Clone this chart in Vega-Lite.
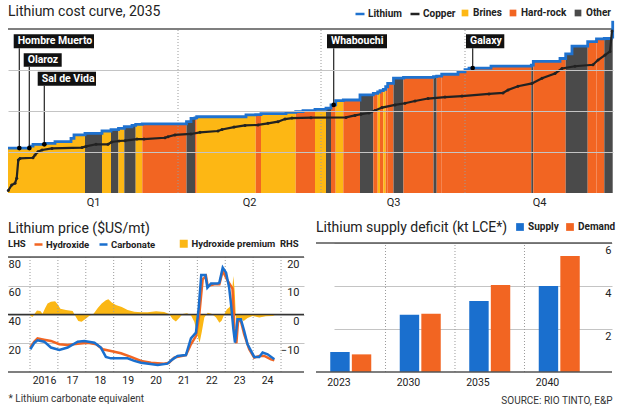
{
  "$schema": "https://vega.github.io/schema/vega-lite/v6.json",
  "background": "white",
  "padding": {"left": 2, "top": 5, "right": 0, "bottom": 0},
  "config": {
    "view": {"stroke": null},
    "font": "Roboto",
    "title": {"font": "Roboto", "fontSize": 14, "fontWeight": "normal", "color": "#222222", "anchor": "start", "frame": "group"},
    "axis": {"labelFont": "Roboto", "labelFontSize": 11, "labelColor": "#222222", "titleFont": "Roboto", "ticks": false, "domain": false, "gridColor": "#c4c4c4", "gridWidth": 1, "labelOverlap": false, "labelSeparation": 0},
    "legend": {"labelFont": "Roboto", "labelFontSize": 10, "labelFontWeight": "bold", "labelColor": "#222222", "titleFont": "Roboto", "titleFontSize": 10, "titleFontWeight": "bold", "titleColor": "#222222", "padding": 0, "direction": "horizontal", "gridAlign": "none"}
  },
  "datasets": {
    "bars": [
      {"id":1,"x0":0,"x1":22,"v":27.4,"type":"Brines"},
      {"id":2,"x0":22,"x1":25,"v":28.6,"type":"Brines"},
      {"id":3,"x0":25,"x1":37,"v":29.7,"type":"Brines"},
      {"id":4,"x0":37,"x1":47,"v":30.3,"type":"Brines"},
      {"id":5,"x0":47,"x1":63,"v":31.3,"type":"Brines"},
      {"id":6,"x0":63,"x1":66,"v":33.3,"type":"Brines"},
      {"id":7,"x0":66,"x1":77,"v":35.4,"type":"Brines"},
      {"id":8,"x0":77,"x1":94,"v":36.4,"type":"Other"},
      {"id":9,"x0":94,"x1":103,"v":37.8,"type":"Brines"},
      {"id":10,"x0":103,"x1":110.5,"v":38.6,"type":"Other"},
      {"id":11,"x0":110.5,"x1":116.3,"v":39.4,"type":"Brines"},
      {"id":12,"x0":116.3,"x1":124,"v":40.4,"type":"Other"},
      {"id":13,"x0":124,"x1":127.7,"v":41.2,"type":"Other"},
      {"id":14,"x0":127.7,"x1":134.3,"v":41.8,"type":"Brines"},
      {"id":15,"x0":134.3,"x1":178.5,"v":42.1,"type":"Hard-rock"},
      {"id":16,"x0":178.5,"x1":183,"v":43.5,"type":"Other"},
      {"id":17,"x0":183,"x1":187,"v":45.5,"type":"Other"},
      {"id":18,"x0":187,"x1":188.7,"v":45.8,"type":"Hard-rock"},
      {"id":19,"x0":188.7,"x1":238,"v":46.5,"type":"Brines"},
      {"id":20,"x0":238,"x1":247.7,"v":47.6,"type":"Brines"},
      {"id":21,"x0":247.7,"x1":253,"v":47.8,"type":"Hard-rock"},
      {"id":22,"x0":253,"x1":278,"v":48.4,"type":"Brines"},
      {"id":23,"x0":278,"x1":287.7,"v":49.2,"type":"Brines"},
      {"id":24,"x0":287.7,"x1":295,"v":49.6,"type":"Hard-rock"},
      {"id":25,"x0":295,"x1":307,"v":50.2,"type":"Hard-rock"},
      {"id":26,"x0":307,"x1":318,"v":51.0,"type":"Brines"},
      {"id":27,"x0":318,"x1":323,"v":51.8,"type":"Other"},
      {"id":28,"x0":323,"x1":327.7,"v":53.7,"type":"Hard-rock"},
      {"id":29,"x0":327.7,"x1":335.3,"v":56.3,"type":"Brines"},
      {"id":30,"x0":335.3,"x1":352,"v":56.7,"type":"Hard-rock"},
      {"id":31,"x0":352,"x1":365.3,"v":59.8,"type":"Other"},
      {"id":32,"x0":365.3,"x1":369.7,"v":60.8,"type":"Hard-rock"},
      {"id":33,"x0":369.7,"x1":372,"v":61.6,"type":"Brines"},
      {"id":34,"x0":372,"x1":375.3,"v":62.4,"type":"Hard-rock"},
      {"id":35,"x0":375.3,"x1":377.7,"v":63.2,"type":"Brines"},
      {"id":36,"x0":377.7,"x1":379.7,"v":64.8,"type":"Hard-rock"},
      {"id":37,"x0":379.7,"x1":385.5,"v":66.9,"type":"Hard-rock"},
      {"id":38,"x0":385.5,"x1":395.5,"v":70.0,"type":"Other"},
      {"id":39,"x0":395.5,"x1":425.5,"v":70.5,"type":"Hard-rock"},
      {"id":40,"x0":425.5,"x1":428.7,"v":71.0,"type":"Other"},
      {"id":41,"x0":428.7,"x1":433.7,"v":71.3,"type":"Hard-rock"},
      {"id":42,"x0":433.7,"x1":450,"v":72.4,"type":"Hard-rock"},
      {"id":43,"x0":450,"x1":457,"v":73.8,"type":"Hard-rock"},
      {"id":44,"x0":457,"x1":461,"v":75.2,"type":"Hard-rock"},
      {"id":45,"x0":461,"x1":483,"v":76.2,"type":"Hard-rock"},
      {"id":46,"x0":483,"x1":523.3,"v":77.4,"type":"Hard-rock"},
      {"id":47,"x0":523.3,"x1":525.3,"v":78.0,"type":"Other"},
      {"id":48,"x0":525.3,"x1":552,"v":80.3,"type":"Hard-rock"},
      {"id":49,"x0":552,"x1":557.7,"v":82.0,"type":"Hard-rock"},
      {"id":50,"x0":557.7,"x1":564,"v":84.8,"type":"Other"},
      {"id":51,"x0":564,"x1":579.7,"v":89.6,"type":"Other"},
      {"id":52,"x0":579.7,"x1":588.5,"v":92.3,"type":"Hard-rock"},
      {"id":53,"x0":588.5,"x1":596.3,"v":94.0,"type":"Hard-rock"},
      {"id":54,"x0":596.3,"x1":604.7,"v":94.2,"type":"Other"}
    ],
    "copper": [
      {"x":0.3,"v":1.5},{"x":3.7,"v":4.9},{"x":7,"v":6.0},{"x":8.7,"v":9.0},{"x":10.3,"v":20.1},{"x":12,"v":21.1},
      {"x":25,"v":21.5},{"x":27,"v":23.2},{"x":30,"v":25.2},{"x":34,"v":26.2},{"x":44,"v":27.2},{"x":74,"v":27.7},
      {"x":78,"v":28.4},{"x":88,"v":29.7},{"x":100,"v":29.7},{"x":103.7,"v":31.1},{"x":111,"v":31.7},{"x":117,"v":31.9},
      {"x":129,"v":32.9},{"x":136,"v":32.9},{"x":157,"v":33.7},{"x":160,"v":34.3},{"x":167,"v":35.4},{"x":183,"v":36.0},
      {"x":192,"v":37.0},{"x":210,"v":37.8},{"x":214,"v":38.7},{"x":226,"v":40.2},{"x":237,"v":41.2},{"x":250,"v":41.5},
      {"x":260,"v":42.5},{"x":270,"v":43.5},{"x":277,"v":45.1},{"x":284,"v":45.7},{"x":303,"v":45.9},{"x":338,"v":46.1},
      {"x":347,"v":47.3},{"x":353,"v":48.0},{"x":361,"v":48.8},{"x":367,"v":50.3},{"x":374,"v":52.1},{"x":387,"v":53.7},
      {"x":397,"v":54.7},{"x":407,"v":56.1},{"x":420,"v":57.6},{"x":437,"v":58.5},{"x":454,"v":59.1},{"x":481,"v":60.4},
      {"x":495,"v":61.0},{"x":500,"v":62.8},{"x":510,"v":65.1},{"x":524,"v":66.8},{"x":534,"v":70.0},{"x":547,"v":72.9},
      {"x":554,"v":75.9},{"x":567,"v":77.3},{"x":585,"v":78.2},{"x":590,"v":81.1},{"x":597,"v":84.1},{"x":602,"v":86.3},
      {"x":604,"v":98.8}
    ],
    "ann": [
      {"label":"Hombre Muerto","bx0":5.7,"bx1":86,"by0":88.2,"by1":96.8,"lx":11.3,"dy":27.4},
      {"label":"Olaroz","bx0":15.7,"bx1":53.7,"by0":77.0,"by1":85.2,"lx":21.3,"dy":27.4},
      {"label":"Sal de Vida","bx0":29.7,"bx1":88,"by0":65.4,"by1":74.0,"lx":36.3,"dy":29.7},
      {"label":"Whabouchi","bx0":319,"bx1":379,"by0":88.2,"by1":96.8,"lx":325.7,"dy":53.7},
      {"label":"Galaxy","bx0":458,"bx1":496.3,"by0":88.2,"by1":96.8,"lx":464.7,"dy":76.2}
    ],
    "price": [
      {"t":2016.01,"s":"Hydroxide","v":17.0},{"t":2016.15,"s":"Hydroxide","v":21.0},{"t":2016.27,"s":"Hydroxide","v":23.4},{"t":2016.5,"s":"Hydroxide","v":22.5},
      {"t":2016.75,"s":"Hydroxide","v":21.6},{"t":2017.05,"s":"Hydroxide","v":19.3},{"t":2017.35,"s":"Hydroxide","v":18.8},{"t":2017.71,"s":"Hydroxide","v":19.7},
      {"t":2018.08,"s":"Hydroxide","v":20.4},{"t":2018.37,"s":"Hydroxide","v":19.3},{"t":2018.61,"s":"Hydroxide","v":15.8},{"t":2018.90,"s":"Hydroxide","v":14.6},
      {"t":2019.26,"s":"Hydroxide","v":13.0},{"t":2019.62,"s":"Hydroxide","v":10.5},{"t":2019.98,"s":"Hydroxide","v":7.7},{"t":2020.34,"s":"Hydroxide","v":6.5},
      {"t":2020.81,"s":"Hydroxide","v":5.8},{"t":2020.99,"s":"Hydroxide","v":6.5},{"t":2021.17,"s":"Hydroxide","v":10.0},{"t":2021.59,"s":"Hydroxide","v":11.8},
      {"t":2021.77,"s":"Hydroxide","v":19.3},{"t":2021.95,"s":"Hydroxide","v":25.0},{"t":2022.07,"s":"Hydroxide","v":40.0},{"t":2022.19,"s":"Hydroxide","v":64.5},
      {"t":2022.31,"s":"Hydroxide","v":66.8},{"t":2022.37,"s":"Hydroxide","v":59.9},{"t":2022.61,"s":"Hydroxide","v":61.0},{"t":2022.79,"s":"Hydroxide","v":61.0},
      {"t":2022.91,"s":"Hydroxide","v":70.3},{"t":2023.09,"s":"Hydroxide","v":63.3},{"t":2023.26,"s":"Hydroxide","v":58.0},{"t":2023.33,"s":"Hydroxide","v":30.0},
      {"t":2023.40,"s":"Hydroxide","v":20.0},{"t":2023.46,"s":"Hydroxide","v":35.5},{"t":2023.56,"s":"Hydroxide","v":35.5},{"t":2023.68,"s":"Hydroxide","v":26.2},
      {"t":2023.86,"s":"Hydroxide","v":15.8},{"t":2024.04,"s":"Hydroxide","v":10.0},{"t":2024.22,"s":"Hydroxide","v":11.2},{"t":2024.40,"s":"Hydroxide","v":11.2},
      {"t":2024.64,"s":"Hydroxide","v":8.8},{"t":2024.76,"s":"Hydroxide","v":8.1},
      {"t":2016.01,"s":"Carbonate","v":15.8},{"t":2016.16,"s":"Carbonate","v":20.4},{"t":2016.27,"s":"Carbonate","v":22.1},{"t":2016.51,"s":"Carbonate","v":21.1},
      {"t":2016.75,"s":"Carbonate","v":17.0},{"t":2017.05,"s":"Carbonate","v":15.3},{"t":2017.35,"s":"Carbonate","v":17.0},{"t":2017.71,"s":"Carbonate","v":21.1},
      {"t":2017.95,"s":"Carbonate","v":21.6},{"t":2018.31,"s":"Carbonate","v":20.4},{"t":2018.54,"s":"Carbonate","v":17.0},{"t":2018.72,"s":"Carbonate","v":10.5},
      {"t":2018.90,"s":"Carbonate","v":9.5},{"t":2019.50,"s":"Carbonate","v":9.5},{"t":2019.74,"s":"Carbonate","v":7.7},{"t":2019.98,"s":"Carbonate","v":6.5},
      {"t":2020.58,"s":"Carbonate","v":4.9},{"t":2020.93,"s":"Carbonate","v":5.8},{"t":2021.11,"s":"Carbonate","v":8.8},{"t":2021.29,"s":"Carbonate","v":11.2},
      {"t":2021.59,"s":"Carbonate","v":11.8},{"t":2021.77,"s":"Carbonate","v":23.4},{"t":2021.95,"s":"Carbonate","v":27.4},{"t":2022.05,"s":"Carbonate","v":45.0},
      {"t":2022.14,"s":"Carbonate","v":67.5},{"t":2022.29,"s":"Carbonate","v":67.5},{"t":2022.36,"s":"Carbonate","v":58.7},{"t":2022.49,"s":"Carbonate","v":61.5},
      {"t":2022.73,"s":"Carbonate","v":61.5},{"t":2022.79,"s":"Carbonate","v":62.2},{"t":2022.91,"s":"Carbonate","v":72.6},{"t":2023.03,"s":"Carbonate","v":69.1},
      {"t":2023.14,"s":"Carbonate","v":58.7},{"t":2023.22,"s":"Carbonate","v":45.0},{"t":2023.29,"s":"Carbonate","v":30.0},{"t":2023.35,"s":"Carbonate","v":20.4},
      {"t":2023.44,"s":"Carbonate","v":36.7},{"t":2023.56,"s":"Carbonate","v":36.7},{"t":2023.68,"s":"Carbonate","v":28.5},{"t":2023.80,"s":"Carbonate","v":19.3},
      {"t":2024.04,"s":"Carbonate","v":10.5},{"t":2024.22,"s":"Carbonate","v":10.5},{"t":2024.34,"s":"Carbonate","v":13.5},{"t":2024.52,"s":"Carbonate","v":12.3},
      {"t":2024.76,"s":"Carbonate","v":8.8}
    ],
    "premium": [
      {"t":2016.01,"p":-0.5},{"t":2016.10,"p":-0.8},{"t":2016.16,"p":0.2},{"t":2016.25,"p":1.4},{"t":2016.37,"p":1.2},{"t":2016.45,"p":0.3},
      {"t":2016.54,"p":2.2},{"t":2016.63,"p":3.8},{"t":2016.75,"p":4.4},{"t":2016.90,"p":4.6},{"t":2016.99,"p":3.6},{"t":2017.09,"p":2.0},
      {"t":2017.29,"p":1.6},{"t":2017.53,"p":1.2},{"t":2017.61,"p":-0.3},{"t":2017.73,"p":-2.3},{"t":2017.85,"p":-2.5},{"t":2018.01,"p":-1.4},
      {"t":2018.13,"p":-0.4},{"t":2018.28,"p":0.3},{"t":2018.43,"p":2.3},{"t":2018.57,"p":3.8},{"t":2018.72,"p":5.0},{"t":2018.81,"p":5.3},
      {"t":2018.93,"p":4.2},{"t":2019.08,"p":3.3},{"t":2019.29,"p":2.6},{"t":2019.50,"p":1.6},{"t":2019.74,"p":1.0},{"t":2019.98,"p":0.8},
      {"t":2020.22,"p":0.8},{"t":2020.52,"p":1.1},{"t":2020.81,"p":0.9},{"t":2020.99,"p":0.2},{"t":2021.11,"p":-1.6},{"t":2021.23,"p":-2.4},
      {"t":2021.35,"p":-1.2},{"t":2021.47,"p":0.2},{"t":2021.63,"p":0.4},{"t":2021.77,"p":-0.3},{"t":2021.89,"p":-2.5},{"t":2022.01,"p":-7.5},
      {"t":2022.08,"p":-9.8},{"t":2022.16,"p":-6.0},{"t":2022.25,"p":-1.0},{"t":2022.37,"p":0.6},{"t":2022.51,"p":0.3},{"t":2022.67,"p":-1.0},
      {"t":2022.79,"p":-2.9},{"t":2022.87,"p":-2.2},{"t":2022.97,"p":0.2},{"t":2023.06,"p":1.8},{"t":2023.16,"p":2.6},{"t":2023.23,"p":6.0},
      {"t":2023.29,"p":13.4},{"t":2023.34,"p":8.0},{"t":2023.40,"p":-5.7},{"t":2023.44,"p":-2.0},{"t":2023.54,"p":-1.1},{"t":2023.66,"p":-2.3},
      {"t":2023.80,"p":-1.2},{"t":2023.98,"p":-0.5},{"t":2024.22,"p":-1.0},{"t":2024.46,"p":-0.6},{"t":2024.70,"p":-0.5},{"t":2024.76,"p":-0.3}
    ],
    "deficit": [
      {"year":"2023","s":"Supply","v":0.93},{"year":"2023","s":"Demand","v":0.82},
      {"year":"2030","s":"Supply","v":2.66},{"year":"2030","s":"Demand","v":2.71},
      {"year":"2035","s":"Supply","v":3.30},{"year":"2035","s":"Demand","v":4.05},
      {"year":"2040","s":"Supply","v":4.00},{"year":"2040","s":"Demand","v":5.40}
    ]
  },
  "resolve": {"scale": {"fill": "independent", "color": "independent", "stroke": "independent"}},
  "spacing": 14,
  "vconcat": [
    {
      "width": 605,
      "height": 164,
      "title": {"text": "Lithium cost curve, 2035", "offset": -11},
      "layer": [
        {
          "data": {"name": "bars"},
          "mark": {"type": "rect"},
          "encoding": {
            "x": {"field": "x0", "type": "quantitative", "scale": {"domain": [0, 605], "nice": false, "zero": false},
                  "axis": {"values": [85, 241, 385, 531], "tickCount": 20, "labelExpr": "datum.value < 100 ? 'Q1' : datum.value < 300 ? 'Q2' : datum.value < 450 ? 'Q3' : 'Q4'", "grid": false, "title": null, "labelPadding": 3}},
            "x2": {"field": "x1"},
            "y": {"field": "v", "type": "quantitative", "scale": {"domain": [0, 100], "nice": false, "zero": false},
                  "axis": {"values": [25, 50, 75], "tickCount": 20, "labels": false, "title": null, "grid": true, "zindex": 1}},
            "y2": {"datum": 0},
            "fill": {"field": "type", "type": "nominal",
                     "scale": {"domain": ["Brines", "Hard-rock", "Other"], "range": ["#fdb714", "#f26522", "#4a4a4a"]},
                     "legend": {"orient": "none", "title": null, "legendX": 452, "legendY": -21, "symbolType": "square", "symbolSize": 45, "symbolStrokeWidth": 0, "labelOffset": 3, "columnPadding": 6}}
          }
        },
        {
          "data": {"values": [{"q": 170}, {"q": 313}, {"q": 457}]},
          "mark": {"type": "rule", "color": "#9a9a9a", "strokeDash": [1, 2], "strokeWidth": 1},
          "encoding": {
            "x": {"field": "q", "type": "quantitative"},
            "y": {"datum": 0},
            "y2": {"datum": 100}
          }
        },
        {
          "data": {"values": [{}]},
          "mark": {"type": "rule", "color": "#555555", "strokeWidth": 1.3},
          "encoding": {"y": {"datum": 100}}
        },
        {
          "data": {"name": "bars"},
          "transform": [{"fold": ["x0", "x1"], "as": ["edge", "xv"]}],
          "mark": {"type": "line", "strokeWidth": 2.8},
          "encoding": {
            "x": {"field": "xv", "type": "quantitative"},
            "y": {"field": "v", "type": "quantitative"},
            "order": [{"field": "id", "type": "quantitative"}, {"field": "edge", "type": "nominal"}],
            "stroke": {"datum": "Lithium", "type": "nominal",
                       "scale": {"domain": ["Lithium", "Copper"], "range": ["#1f72cf", "#222222"]},
                       "legend": {"orient": "none", "title": null, "legendX": 346, "legendY": -21, "symbolType": "stroke", "symbolSize": 81, "symbolStrokeWidth": 2.5, "labelOffset": 2, "columnPadding": 3}}
          }
        },
        {
          "data": {"values": [{}]},
          "mark": {"type": "rule", "color": "#1f72cf", "strokeWidth": 2.8},
          "encoding": {
            "x": {"datum": 604.7, "type": "quantitative"},
            "y": {"datum": 94.2, "type": "quantitative"},
            "y2": {"datum": 105}
          }
        },
        {
          "data": {"name": "copper"},
          "mark": {"type": "line", "strokeWidth": 2.2},
          "encoding": {
            "x": {"field": "x", "type": "quantitative"},
            "y": {"field": "v", "type": "quantitative"},
            "stroke": {"datum": "Copper", "type": "nominal"}
          }
        },
        {
          "data": {"name": "copper"},
          "mark": {"type": "point", "filled": true, "size": 9, "color": "#222222", "opacity": 1},
          "encoding": {
            "x": {"field": "x", "type": "quantitative"},
            "y": {"field": "v", "type": "quantitative"}
          }
        },
        {
          "data": {"name": "ann"},
          "mark": {"type": "rule", "color": "#222222", "strokeWidth": 1.2},
          "encoding": {
            "x": {"field": "lx", "type": "quantitative"},
            "y": {"field": "by0", "type": "quantitative"},
            "y2": {"field": "dy"}
          }
        },
        {
          "data": {"name": "ann"},
          "mark": {"type": "point", "filled": true, "size": 22, "color": "#000000", "opacity": 1},
          "encoding": {
            "x": {"field": "lx", "type": "quantitative"},
            "y": {"field": "dy", "type": "quantitative"}
          }
        },
        {
          "data": {"name": "ann"},
          "mark": {"type": "rect", "color": "#111111"},
          "encoding": {
            "x": {"field": "bx0", "type": "quantitative"},
            "x2": {"field": "bx1"},
            "y": {"field": "by0", "type": "quantitative"},
            "y2": {"field": "by1"}
          }
        },
        {
          "data": {"name": "ann"},
          "mark": {"type": "text", "align": "left", "baseline": "top", "dx": 4, "dy": 2, "color": "#ffffff", "font": "Roboto", "fontSize": 10.5, "fontWeight": "bold"},
          "encoding": {
            "x": {"field": "bx0", "type": "quantitative"},
            "y": {"field": "by1", "type": "quantitative"},
            "text": {"field": "label"}
          }
        }
      ]
    },
    {
      "spacing": 10,
      "resolve": {"scale": {"fill": "independent", "color": "independent", "stroke": "independent"}},
      "hconcat": [
        {
          "width": 296,
          "height": 129,
          "title": {"text": "Lithium price ($US/mt)", "offset": 3},
          "resolve": {"scale": {"y": "independent"}},
          "layer": [
            {
              "data": {"name": "premium"},
              "mark": {"type": "area", "opacity": 1},
              "encoding": {
                "x": {"field": "t", "type": "quantitative", "scale": {"domain": [2015.211, 2025.824], "nice": false, "zero": false},
                      "axis": {"values": [2016, 2017, 2018, 2019, 2020, 2021, 2022, 2023, 2024], "tickCount": 20, "labelExpr": "datum.value == 2016 ? '2016' : '' + (datum.value - 2000)", "labelOffset": 14, "labelOverlap": false, "labelFlush": false, "labelFontSize": 10.5, "labelBaseline": "top", "grid": false, "title": "* Lithium carbonate equivalent", "titleAnchor": "start", "titleFontSize": 10, "titleFontWeight": "normal", "titleColor": "#333333", "titlePadding": 8, "labelPadding": 3}},
                "y": {"field": "p", "type": "quantitative", "scale": {"domain": [-20, 24.87], "nice": false, "zero": false},
                      "axis": {"orient": "right", "values": [-10, 0, 10, 20], "tickCount": 20, "format": "d", "grid": false, "title": null, "labelAlign": "right", "labelPadding": -5, "labelBaseline": "top", "labelOffset": 1}},
                "y2": {"datum": 0},
                "fill": {"datum": "Hydroxide premium", "type": "nominal", "scale": {"range": ["#fbb714"]},
                         "legend": {"orient": "none", "title": "RHS", "titleOrient": "right", "titlePadding": 5, "legendX": 171, "legendY": -4, "symbolType": "square", "symbolSize": 64, "symbolStrokeWidth": 0, "labelOffset": 3, "labelFontSize": 9.5, "titleFontSize": 9.5}}
              }
            },
            {
              "layer": [
                {
                  "data": {"values": [{"yr": 2016}, {"yr": 2017}, {"yr": 2018}, {"yr": 2019}, {"yr": 2020}, {"yr": 2021}, {"yr": 2022}, {"yr": 2023}, {"yr": 2024}, {"yr": 2025}]},
                  "mark": {"type": "rule", "color": "#9a9a9a", "strokeDash": [1, 2], "strokeWidth": 1},
                  "encoding": {
                    "x": {"field": "yr", "type": "quantitative"},
                    "y": {"datum": 0, "type": "quantitative"},
                    "y2": {"datum": 80}
                  }
                },
                {
                  "data": {"values": [{}]},
                  "mark": {"type": "rule", "color": "#555555", "strokeWidth": 1.3},
                  "encoding": {"y": {"datum": 80, "type": "quantitative"}}
                },
                {
                  "data": {"values": [{}]},
                  "mark": {"type": "rule", "color": "#333333", "strokeWidth": 1.3},
                  "encoding": {"y": {"datum": 40, "type": "quantitative"}}
                },
                {
                  "data": {"values": [{}]},
                  "mark": {"type": "rule", "color": "#555555", "strokeWidth": 1.3},
                  "encoding": {"y": {"datum": 0, "type": "quantitative"}}
                },
                {
                  "data": {"name": "price"},
                  "mark": {"type": "line", "strokeWidth": 2.5},
                  "encoding": {
                    "x": {"field": "t", "type": "quantitative",
                          "axis": {"values": [2016, 2017, 2018, 2019, 2020, 2021, 2022, 2023, 2024], "tickCount": 20, "labelExpr": "datum.value == 2016 ? '2016' : '' + (datum.value - 2000)", "labelOffset": 14, "labelOverlap": false, "labelFlush": false, "labelFontSize": 10.5, "labelBaseline": "top", "grid": false, "title": "* Lithium carbonate equivalent", "titleAnchor": "start", "titleFontSize": 10, "titleFontWeight": "normal", "titleColor": "#333333", "titlePadding": 8, "labelPadding": 3}},
                    "y": {"field": "v", "type": "quantitative", "scale": {"domain": [0, 89.74], "nice": false, "zero": false},
                          "axis": {"values": [20, 40, 60, 80], "tickCount": 20, "format": "d", "grid": true, "title": null, "labelAlign": "left", "labelPadding": 0, "labelBaseline": "top", "labelOffset": 1}},
                    "color": {"field": "s", "type": "nominal", "scale": {"domain": ["Hydroxide", "Carbonate"], "range": ["#f26522", "#1a6fce"]},
                              "legend": {"orient": "none", "title": "LHS", "titleOrient": "left", "titlePadding": 7, "legendX": 0, "legendY": -4, "symbolType": "stroke", "symbolSize": 64, "symbolStrokeWidth": 2.5, "labelOffset": 2, "columnPadding": 4, "labelFontSize": 9.5, "titleFontSize": 9.5}}
                  }
                }
              ]
            }
          ]
        },
        {
          "width": 296,
          "height": 129,
          "title": {"text": "Lithium supply deficit (kt LCE*)", "offset": -13},
          "layer": [
            {
              "data": {"values": [{"year": "2030"}, {"year": "2035"}, {"year": "2040"}]},
              "mark": {"type": "rule", "color": "#9a9a9a", "strokeDash": [1, 2], "strokeWidth": 1},
              "encoding": {
                "x": {"field": "year", "type": "nominal", "bandPosition": -0.3476},
                "y": {"datum": 0, "type": "quantitative"},
                "y2": {"datum": 6}
              }
            },
            {
              "data": {"name": "deficit"},
              "mark": {"type": "bar"},
              "encoding": {
                "x": {"field": "year", "type": "nominal", "scale": {"domain": ["2023", "2030", "2035", "2040"], "range": [0, 278], "paddingInner": 0.41, "paddingOuter": 0.205},
                      "axis": {"labelAngle": 0, "labelFontSize": 10.5, "labelBaseline": "top", "grid": false, "title": "SOURCE: RIO TINTO, E&P", "titleX": 296, "titleAlign": "right", "titleAnchor": "end", "titleFontSize": 10, "titleFontWeight": "normal", "titleColor": "#333333", "titlePadding": 8, "labelPadding": 5}},
                "xOffset": {"field": "s", "type": "nominal", "scale": {"domain": ["Supply", "Demand"], "paddingInner": 0.1, "paddingOuter": 0}},
                "y": {"field": "v", "type": "quantitative", "scale": {"domain": [0, 6], "nice": false, "zero": false},
                      "axis": {"orient": "right", "values": [2, 4, 6], "tickCount": 20, "format": "d", "grid": true, "title": null, "labelAlign": "right", "labelPadding": -1, "labelBaseline": "top", "labelOffset": 1}},
                "color": {"field": "s", "type": "nominal", "scale": {"domain": ["Supply", "Demand"], "range": ["#1a6fce", "#f26522"]},
                          "legend": {"orient": "none", "title": null, "legendX": 199, "legendY": -21, "symbolType": "square", "symbolSize": 60, "symbolStrokeWidth": 0, "labelOffset": 3, "columnPadding": 6}}
              }
            },
            {
              "data": {"values": [{}]},
              "mark": {"type": "rule", "color": "#555555", "strokeWidth": 1.3},
              "encoding": {"y": {"datum": 6, "type": "quantitative"}}
            },
            {
              "data": {"values": [{}]},
              "mark": {"type": "rule", "color": "#555555", "strokeWidth": 1.3},
              "encoding": {"y": {"datum": 0, "type": "quantitative"}}
            }
          ]
        }
      ]
    }
  ]
}
